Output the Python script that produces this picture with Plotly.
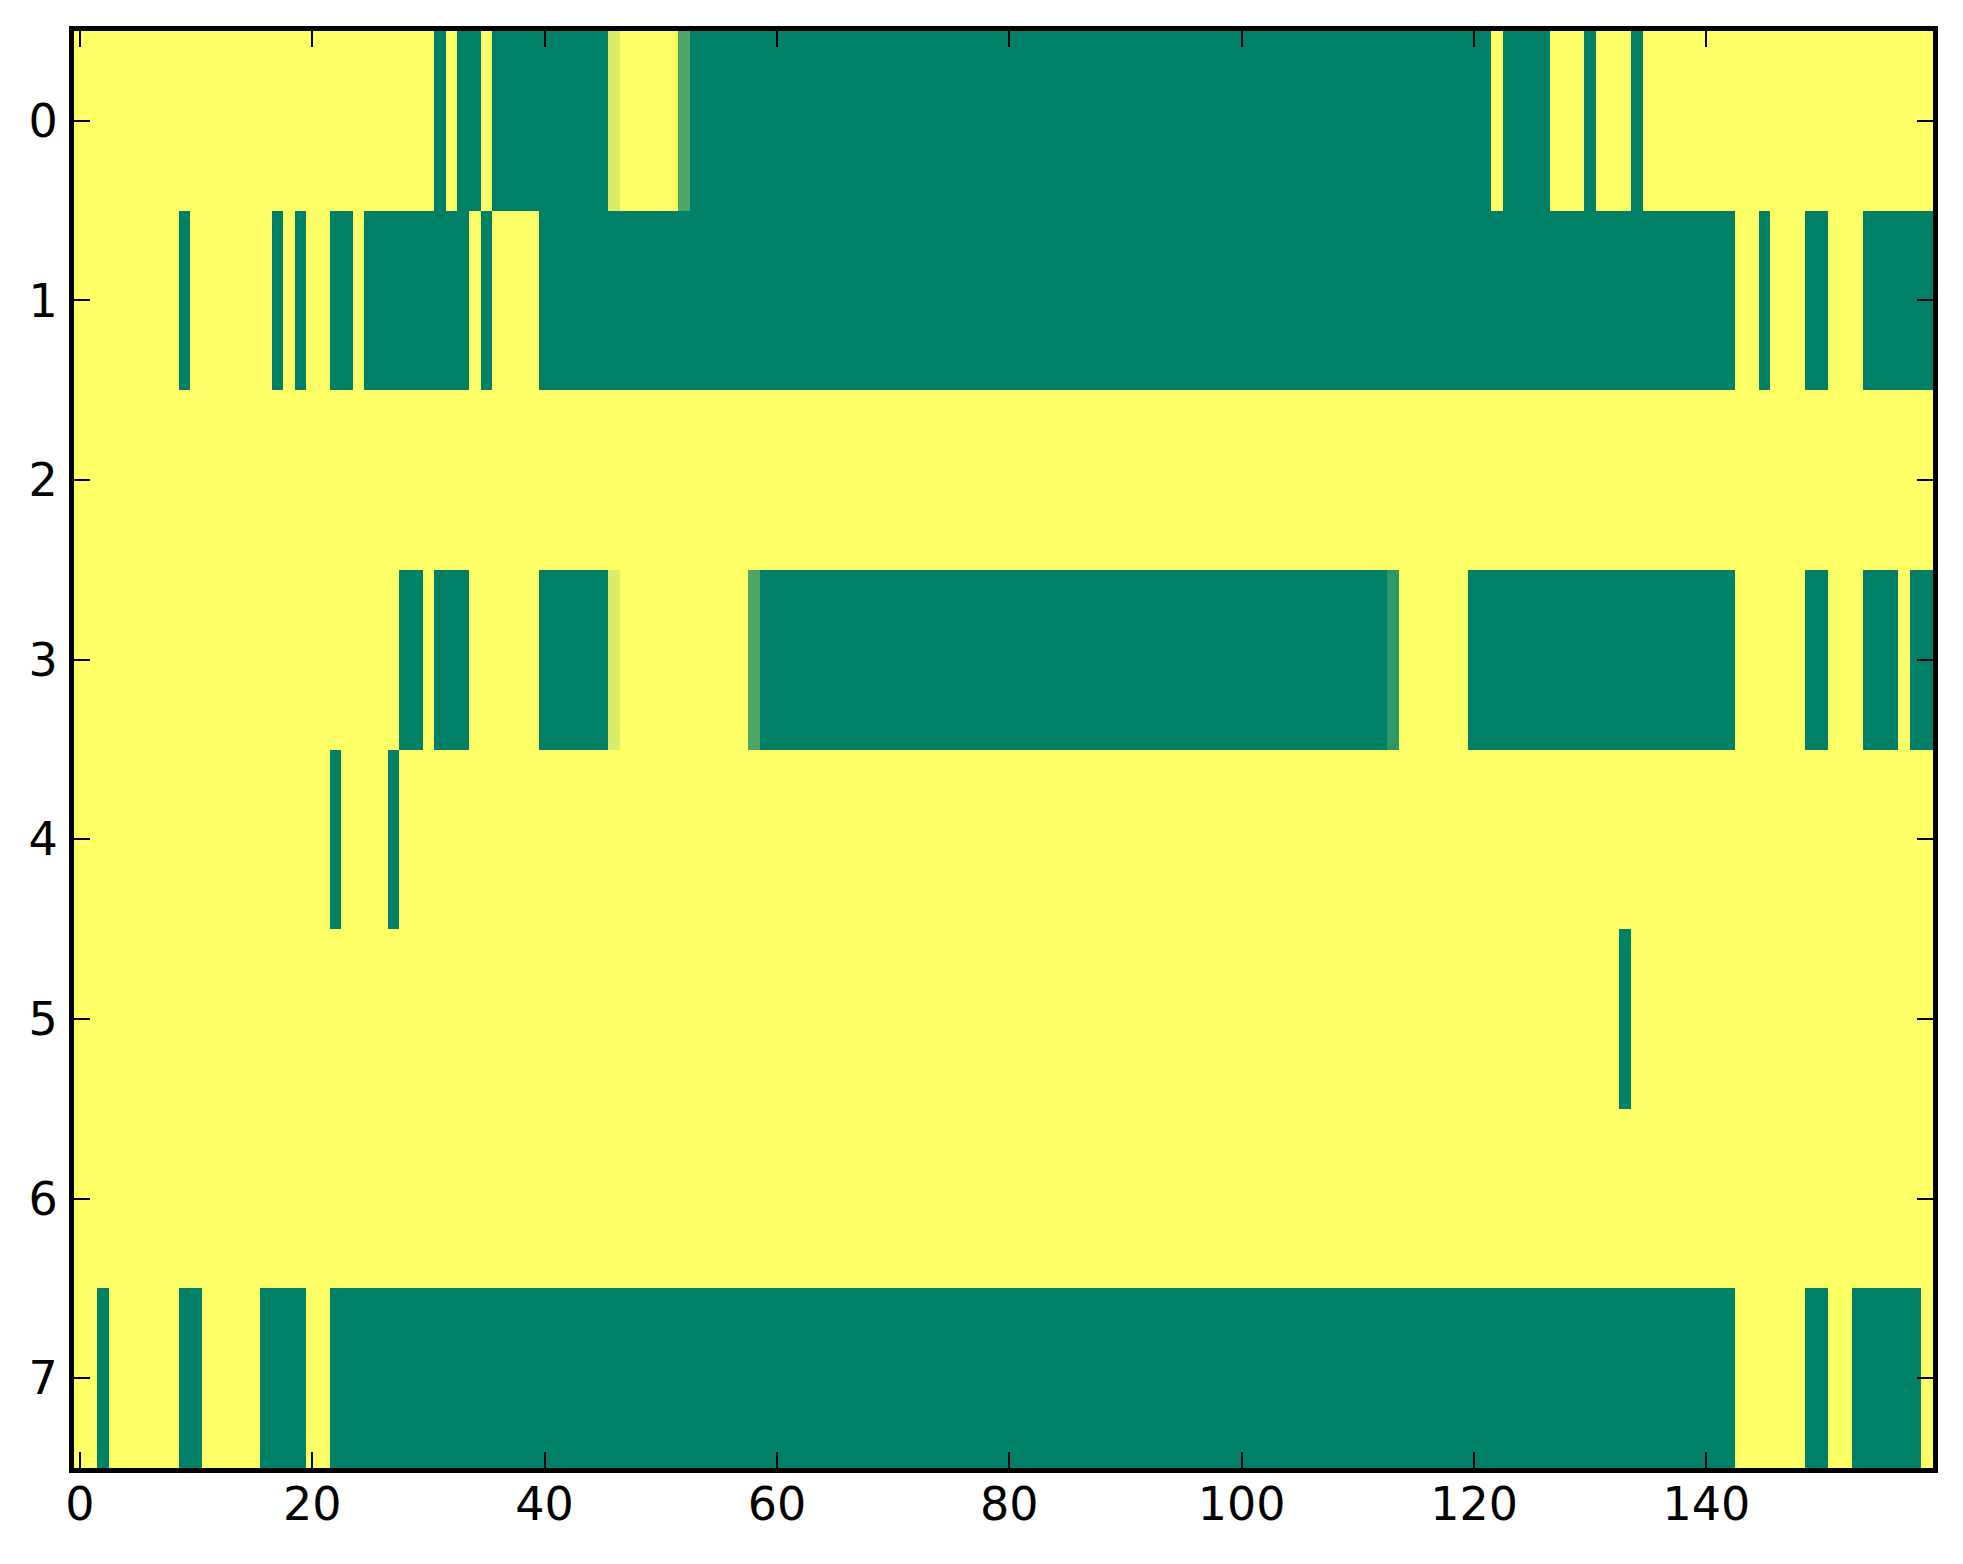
import numpy as np
import plotly.graph_objects as go

# each row of the image as runs of (value, number of columns); 1 = yellow, 0 = green
n_cols = 160
row0 = [(1, 31), (0, 1), (1, 1), (0, 2), (1, 1), (0, 10), (0.86, 1), (1, 5), (0.3, 1),
        (0, 69), (1, 1), (0, 4), (1, 3), (0, 1), (1, 3), (0, 1), (1, 25)]
row1 = [(1, 9), (0, 1), (1, 7), (0, 1), (1, 1), (0, 1), (1, 2), (0, 2), (1, 1), (0, 9),
        (1, 1), (0, 1), (1, 4), (0, 103), (1, 2), (0, 1), (1, 3), (0, 2), (1, 3), (0, 6)]
row2 = [(1, 160)]
row3 = [(1, 28), (0, 2), (1, 1), (0, 3), (1, 6), (0, 6), (0.86, 1), (1, 11), (0.3, 1),
        (0, 54), (0.18, 1), (1, 6), (0, 23), (1, 6), (0, 2), (1, 3), (0, 3), (1, 1), (0, 2)]
row4 = [(1, 22), (0, 1), (1, 4), (0, 1), (1, 132)]
row5 = [(1, 133), (0, 1), (1, 26)]
row6 = [(1, 160)]
row7 = [(1, 2), (0, 1), (1, 6), (0, 2), (1, 5), (0, 4), (1, 2), (0, 121), (1, 6), (0, 2),
        (1, 2), (0, 6), (1, 1)]

rows = [row0, row1, row2, row3, row4, row5, row6, row7]
z = np.array([np.concatenate([np.full(n, v, dtype=float) for v, n in r]) for r in rows])

x_ticks = [0, 20, 40, 60, 80, 100, 120, 140]
y_ticks = [0, 1, 2, 3, 4, 5, 6, 7]

# matplotlib "summer" colormap
summer = [[0, 'rgb(0,128,102)'], [1, 'rgb(255,255,102)']]

fig = go.Figure(go.Heatmap(z=z, x=np.arange(n_cols), y=np.arange(len(rows)),
                           colorscale=summer, zmin=0, zmax=1, showscale=False))

axis_style = dict(showline=True, linewidth=5, linecolor='black', mirror='allticks',
                  ticks='inside', ticklen=16, tickwidth=2, tickcolor='black',
                  showgrid=False, zeroline=False,
                  tickfont=dict(family='DejaVu Sans', size=46, color='black'))

fig.update_layout(
    width=1963, height=1564,
    margin=dict(l=66, r=38, t=23, b=104),
    paper_bgcolor='white', plot_bgcolor='white',
    xaxis=dict(range=[-0.5, n_cols - 0.5], tickvals=x_ticks, ticklabelstandoff=-8, **axis_style),
    yaxis=dict(range=[len(rows) - 0.5, -0.5], tickvals=y_ticks, ticklabelstandoff=2, **axis_style),
)

fig.write_html("out.html")
